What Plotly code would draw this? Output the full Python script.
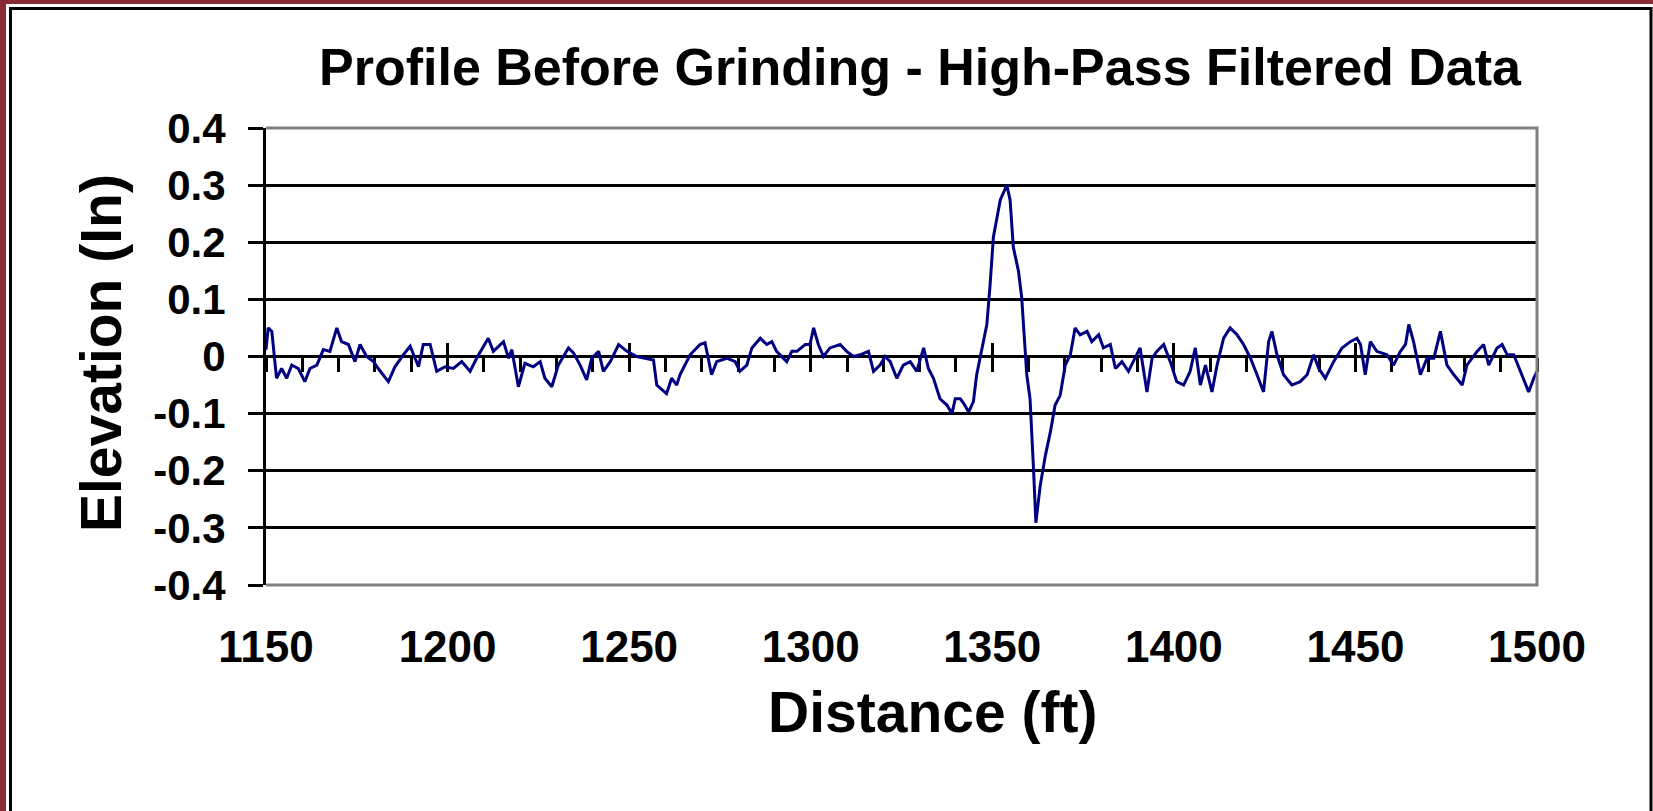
import plotly.graph_objects as go

# ---- data ----
distance_ft = [
    1150.0, 1150.6, 1151.6, 1152.9, 1154.3, 1155.7, 1157.1, 1158.9, 1160.7, 1162.1,
    1164.0, 1165.8, 1167.6, 1169.5, 1170.8, 1172.7, 1174.5, 1175.9, 1177.7, 1179.6,
    1180.9, 1183.7, 1185.5, 1187.8, 1189.7, 1192.0, 1193.3, 1195.2, 1197.0, 1199.3,
    1201.6, 1203.9, 1206.2, 1208.0, 1211.2, 1212.6, 1215.4, 1216.8, 1217.7, 1219.5,
    1221.3, 1223.6, 1225.5, 1226.8, 1228.7, 1230.5, 1233.3, 1234.7, 1236.5, 1238.3,
    1239.7, 1241.6, 1242.9, 1244.8, 1247.1, 1249.4, 1252.1, 1254.9, 1256.7, 1257.6,
    1260.3, 1261.7, 1263.1, 1264.0, 1265.4, 1266.8, 1269.5, 1270.9, 1272.7, 1274.1,
    1276.9, 1279.2, 1280.5, 1282.4, 1283.8, 1286.1, 1287.9, 1289.3, 1290.6, 1293.4,
    1294.8, 1296.2, 1298.5, 1299.8, 1300.8, 1302.1, 1303.5, 1305.3, 1308.1, 1309.9,
    1311.8, 1313.6, 1315.9, 1317.3, 1319.1, 1320.5, 1321.9, 1323.7, 1325.5, 1327.4,
    1329.2, 1331.1, 1332.4, 1333.8, 1335.6, 1337.5, 1338.9, 1339.8, 1341.2, 1342.1,
    1343.5, 1344.8, 1345.7, 1347.1, 1348.5, 1349.4, 1350.3, 1352.2, 1354.0, 1354.9,
    1355.8, 1357.2, 1358.1, 1359.5, 1360.4, 1361.4, 1362.0, 1363.2, 1364.6, 1366.0,
    1367.3, 1368.7, 1370.1, 1371.5, 1372.8, 1374.2, 1376.1, 1377.4, 1379.3, 1380.6,
    1382.5, 1383.9, 1385.7, 1387.5, 1389.4, 1390.7, 1392.6, 1394.0, 1395.3, 1397.2,
    1399.0, 1400.8, 1402.7, 1404.5, 1405.9, 1407.3, 1408.7, 1410.5, 1411.9, 1413.7,
    1415.5, 1417.4, 1419.2, 1421.1, 1422.9, 1424.7, 1426.1, 1427.0, 1428.4, 1430.2,
    1432.5, 1434.8, 1436.7, 1438.5, 1439.9, 1441.7, 1444.0, 1446.3, 1448.6, 1450.4,
    1451.4, 1452.7, 1454.1, 1455.9, 1458.7, 1460.5, 1462.4, 1463.8, 1464.7, 1466.0,
    1467.9, 1469.7, 1471.6, 1473.4, 1475.2, 1477.1, 1479.4, 1480.7, 1483.5, 1485.3,
    1486.7, 1489.0, 1490.4, 1491.8, 1493.6, 1495.4, 1497.7, 1499.1, 1500.0,
]
elevation_in = [
    0.012, 0.050, 0.044, -0.038, -0.021, -0.038, -0.015, -0.021, -0.044, -0.021,
    -0.015, 0.012, 0.009, 0.050, 0.026, 0.021, -0.009, 0.021, 0.000, -0.009,
    -0.021, -0.044, -0.018, 0.003, 0.018, -0.018, 0.021, 0.021, -0.026, -0.018,
    -0.021, -0.009, -0.026, -0.003, 0.032, 0.009, 0.026, -0.003, 0.012, -0.053,
    -0.012, -0.018, -0.009, -0.038, -0.053, -0.015, 0.015, 0.006, -0.015, -0.041,
    -0.003, 0.009, -0.026, -0.009, 0.021, 0.009, 0.000, -0.003, -0.006, -0.050,
    -0.065, -0.038, -0.050, -0.032, -0.015, 0.003, 0.021, 0.024, -0.032, -0.009,
    -0.003, -0.009, -0.026, -0.015, 0.015, 0.032, 0.021, 0.026, 0.009, -0.009,
    0.009, 0.009, 0.021, 0.021, 0.050, 0.021, 0.000, 0.015, 0.021, 0.009,
    0.000, 0.003, 0.009, -0.026, -0.015, 0.000, -0.009, -0.038, -0.015, -0.009,
    -0.026, 0.015, -0.021, -0.038, -0.074, -0.085, -0.100, -0.074, -0.074, -0.082,
    -0.097, -0.079, -0.032, 0.009, 0.056, 0.126, 0.209, 0.274, 0.300, 0.274,
    0.191, 0.150, 0.103, -0.032, -0.074, -0.203, -0.291, -0.226, -0.174, -0.132,
    -0.085, -0.068, -0.015, 0.003, 0.050, 0.038, 0.044, 0.026, 0.038, 0.015,
    0.021, -0.021, -0.009, -0.026, -0.003, 0.015, -0.062, -0.003, 0.009, 0.021,
    -0.009, -0.044, -0.050, -0.026, 0.015, -0.050, -0.015, -0.062, -0.015, 0.032,
    0.050, 0.038, 0.021, -0.003, -0.032, -0.062, 0.026, 0.044, 0.003, -0.032,
    -0.050, -0.044, -0.032, 0.003, -0.021, -0.038, -0.009, 0.015, 0.026, 0.032,
    0.021, -0.032, 0.026, 0.009, 0.003, -0.015, 0.009, 0.021, 0.056, 0.026,
    -0.032, -0.003, -0.003, 0.044, -0.015, -0.032, -0.050, -0.015, 0.009, 0.021,
    -0.015, 0.015, 0.021, 0.003, 0.003, -0.026, -0.062, -0.038, -0.026,
]

x_tick_vals = [1150, 1200, 1250, 1300, 1350, 1400, 1450, 1500]
x_tick_text = ["1150", "1200", "1250", "1300", "1350", "1400", "1450", "1500"]
y_tick_vals = [0.4, 0.3, 0.2, 0.1, 0.0, -0.1, -0.2, -0.3, -0.4]
y_tick_text = ["0.4", "0.3", "0.2", "0.1", "0", "-0.1", "-0.2", "-0.3", "-0.4"]

title_text = "Profile Before Grinding - High-Pass Filtered Data"
x_title = "Distance (ft)"
y_title = "Elevation (In)"

FONT = "Liberation Sans, Arial, sans-serif"
W, H = 1653, 811
L, R, T, B = 266, 116, 128, 226
PW, PH = W - L - R, H - T - B


def px(x):
    return (x - L) / PW


def py(y):
    return (H - B - y) / PH


fig = go.Figure()
fig.add_trace(go.Scatter(
    x=distance_ft, y=elevation_in, mode="lines",
    line=dict(color="#000080", width=3),
    hoverinfo="skip", showlegend=False,
))
# empty helper traces so the tick-only axes crossing at y = 0 are rendered
for ax in ("x2", "x3"):
    fig.add_trace(go.Scatter(x=[None], y=[None], xaxis=ax, yaxis="y", mode="lines",
                             hoverinfo="skip", showlegend=False))

fig.update_layout(
    width=W, height=H,
    margin=dict(l=L, r=R, t=T, b=B, pad=0),
    paper_bgcolor="white", plot_bgcolor="white",
    showlegend=False,
    title=dict(
        text=title_text, x=px(920), xref="paper", xanchor="center",
        y=1 - 67 / H, yref="container", yanchor="middle",
        font=dict(family=FONT, size=52, color="black", weight="bold"),
    ),
    xaxis=dict(
        range=[1150, 1500], showgrid=False, zeroline=False, showline=False,
        tickmode="array", tickvals=x_tick_vals, ticktext=x_tick_text,
        ticks="", ticklabelstandoff=32,
        tickfont=dict(family=FONT, size=44, color="black", weight="bold"),
    ),
    xaxis2=dict(
        overlaying="x", anchor="free", position=0.5, range=[1150, 1500],
        showgrid=False, zeroline=False, showline=False, showticklabels=False,
        tickmode="linear", tick0=1150, dtick=50,
        ticks="outside", ticklen=14, tickwidth=2.5, tickcolor="black",
        minor=dict(ticks="outside", ticklen=14, tickwidth=2.5, tickcolor="black",
                   tick0=1150, dtick=10, showgrid=False),
        layer="below traces",
    ),
    xaxis3=dict(
        overlaying="x", anchor="free", position=0.5, range=[1150, 1500],
        showgrid=False, zeroline=False, showline=False, showticklabels=False,
        tickmode="linear", tick0=1150, dtick=50,
        ticks="inside", ticklen=14, tickwidth=2.5, tickcolor="black",
        layer="below traces",
    ),
    yaxis=dict(
        range=[-0.4, 0.4], tickmode="array", tickvals=y_tick_vals, ticktext=y_tick_text,
        showgrid=True, gridcolor="black", gridwidth=3,
        zeroline=True, zerolinecolor="black", zerolinewidth=3,
        showline=True, linecolor="black", linewidth=3,
        ticks="outside", ticklen=15, tickwidth=3, tickcolor="black",
        ticklabelstandoff=14,
        tickfont=dict(family=FONT, size=42, color="black", weight="bold"),
    ),
    shapes=[
        # plot-area border (top, right, bottom)
        dict(type="path", xref="paper", yref="paper", path="M0,1 L1,1 L1,0 L0,0",
             line=dict(color="#808080", width=3), layer="above"),
        # outer maroon frame
        dict(type="rect", xref="paper", yref="paper", x0=px(0), x1=px(6), y0=py(H + 5), y1=py(-5),
             fillcolor="#8A2A35", line=dict(width=0), layer="above"),
        dict(type="rect", xref="paper", yref="paper", x0=px(0), x1=px(W + 5), y0=py(4), y1=py(-5),
             fillcolor="#8A2A35", line=dict(width=0), layer="above"),
        # inner black frame
        dict(type="rect", xref="paper", yref="paper", x0=px(10.5), x1=px(1651), y0=py(H + 20), y1=py(8.5),
             fillcolor="rgba(0,0,0,0)", line=dict(color="black", width=3), layer="above"),
    ],
    annotations=[
        dict(text=x_title, xref="paper", yref="paper", x=px(932), y=py(712),
             xanchor="center", yanchor="middle", showarrow=False,
             font=dict(family=FONT, size=57, color="black", weight="bold")),
        dict(text=y_title, xref="paper", yref="paper", x=px(101), y=py(353),
             xanchor="center", yanchor="middle", showarrow=False, textangle=-90,
             font=dict(family=FONT, size=57, color="black", weight="bold")),
    ],
)

fig.write_html("out.html")
